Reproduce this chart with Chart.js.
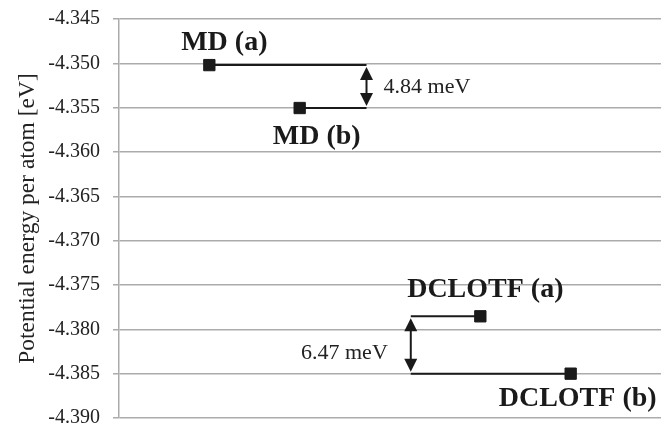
<!DOCTYPE html>
<html>
<head>
<meta charset="utf-8">
<script src="https://cdn.jsdelivr.net/npm/chart.js@4/dist/chart.umd.min.js"></script>
<style>
  body { margin: 0; background: #fff; }
</style>
</head>
<body>
<canvas id="energyChart" width="670" height="427"></canvas>
<script>
// data
var categories = ['MD (a)', 'MD (b)', 'DCLOTF (a)', 'DCLOTF (b)'];
var xPositions = [1, 2, 4, 5];
var energies = [-4.35020, -4.35504, -4.37853, -4.38500];
var gapLabels = ['4.84 meV', '6.47 meV'];
var bracketX = [2.74, 3.23];
var yTicks = [-4.390, -4.385, -4.380, -4.375, -4.370, -4.365, -4.360, -4.355, -4.350, -4.345];

var serif = "'Liberation Serif', 'Times New Roman', serif";
var ink = '#1a1a1a';
var gridGray = '#ababab';

document.addEventListener("DOMContentLoaded", function() {
    var ctx = document.getElementById('energyChart').getContext('2d');

    var markerData = xPositions.map(function(x, i) {
        return { x: x, y: energies[i] };
    });

    var connectorSets = [];
    for (var k = 0; k < bracketX.length; k++) {
        [2 * k, 2 * k + 1].forEach(function(i) {
            connectorSets.push({
                type: 'line',
                data: [{ x: xPositions[i], y: energies[i] }, { x: bracketX[k], y: energies[i] }],
                borderColor: ink,
                borderWidth: 2,
                pointRadius: 0,
                fill: false
            });
        });
    }

    // arrows, gap values and point names
    var annotate = {
        id: 'annotate',
        afterDatasetsDraw: function(chart) {
            var xs = chart.scales.x, ys = chart.scales.y;
            var c = chart.ctx;
            c.save();
            c.fillStyle = ink;
            c.strokeStyle = ink;
            c.lineWidth = 2;

            for (var k = 0; k < bracketX.length; k++) {
                var x = xs.getPixelForValue(bracketX[k]);
                var yTop = ys.getPixelForValue(energies[2 * k]) + 2;
                var yBot = ys.getPixelForValue(energies[2 * k + 1]) - 2;
                var head = 13, half = 6.5;
                c.beginPath();
                c.moveTo(x, yTop + head - 1);
                c.lineTo(x, yBot - head + 1);
                c.stroke();
                c.beginPath();
                c.moveTo(x, yTop);
                c.lineTo(x - half, yTop + head);
                c.lineTo(x + half, yTop + head);
                c.closePath();
                c.fill();
                c.beginPath();
                c.moveTo(x, yBot);
                c.lineTo(x - half, yBot - head);
                c.lineTo(x + half, yBot - head);
                c.closePath();
                c.fill();

                var mid = (yTop + yBot) / 2;
                c.font = '22px ' + serif;
                c.fillStyle = '#222';
                c.textBaseline = 'middle';
                if (k === 0) {
                    c.textAlign = 'left';
                    c.fillText(gapLabels[k], x + 17, mid + 1);
                } else {
                    c.textAlign = 'right';
                    c.fillText(gapLabels[k], x - 23, mid + 8);
                }
                c.fillStyle = ink;
            }

            var offsets = [[15, -22], [17, 29], [5, -27], [7, 25]];
            c.font = 'bold 28px ' + serif;
            c.textAlign = 'center';
            c.textBaseline = 'middle';
            c.fillStyle = ink;
            categories.forEach(function(name, i) {
                var px = xs.getPixelForValue(xPositions[i]);
                var py = ys.getPixelForValue(energies[i]);
                c.fillText(name, px + offsets[i][0], py + offsets[i][1]);
            });
            c.restore();
        }
    };

    var energyChart = new Chart(ctx, {
        type: 'scatter',
        data: {
            datasets: [{
                data: markerData,
                pointStyle: 'rect',
                pointRadius: 8,
                pointBackgroundColor: ink,
                pointBorderColor: ink,
                pointBorderWidth: 1,
                showLine: false
            }].concat(connectorSets)
        },
        options: {
            responsive: false,
            animation: false,
            devicePixelRatio: 1,
            layout: { padding: { top: 19, right: 7, bottom: 9, left: 0 } },
            plugins: {
                legend: { display: false },
                tooltip: { enabled: false }
            },
            scales: {
                x: {
                    type: 'linear',
                    min: 0,
                    max: 6,
                    display: false
                },
                y: {
                    min: -4.390,
                    max: -4.345,
                    afterBuildTicks: function(scale) {
                        scale.ticks = yTicks.map(function(v) { return { value: v }; });
                    },
                    afterFit: function(scale) {
                        scale.width = 119;
                        scale.paddingTop = 0;
                        scale.paddingBottom = 0;
                    },
                    grid: {
                        color: gridGray,
                        lineWidth: 1.5,
                        tickLength: 6,
                        drawTicks: true
                    },
                    border: { color: gridGray, width: 1.5 },
                    ticks: {
                        color: '#222',
                        padding: 13,
                        font: { family: serif, size: 20 },
                        callback: function(value) {
                            return Number(value).toFixed(3);
                        }
                    },
                    title: {
                        display: true,
                        text: 'Potential energy per atom [eV]',
                        color: '#222',
                        font: { family: serif, size: 23.5 },
                        padding: { top: 14, bottom: 0 }
                    }
                }
            }
        },
        plugins: [annotate]
    });
});
</script>
</body>
</html>
